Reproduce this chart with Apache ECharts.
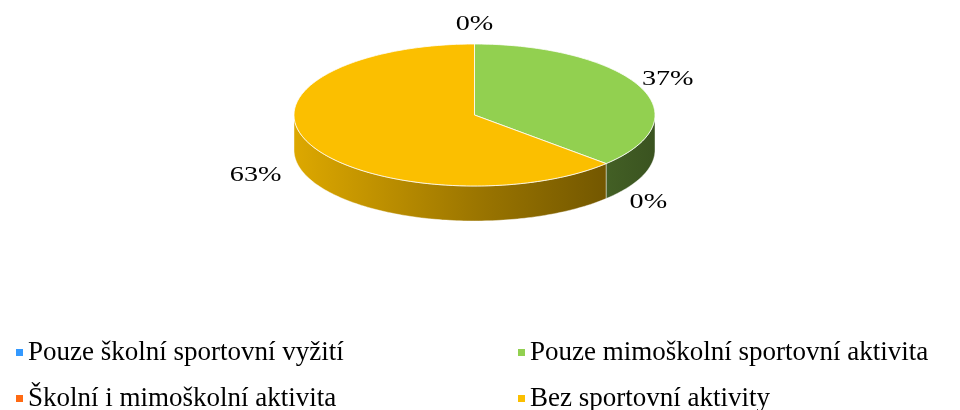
<!DOCTYPE html>
<html style="height: 100%">
   <head>
       <meta charset="utf-8">
       <script type="text/javascript" src="https://cdn.jsdelivr.net/npm/echarts@6/dist/echarts.min.js"></script>
   </head>
   <body style="height: 100%; margin: 0; background: #fff">
       <div id="container" style="width: 960px; height: 410px"></div>
       <script type="text/javascript">
var categories = ['Pouze školní sportovní vyžití', 'Pouze mimoškolní sportovní aktivita', 'Školní i mimoškolní aktivita', 'Bez sportovní aktivity'];
var values = [0, 37, 0, 63];
var colors = ['#3399FF', '#92D050', '#FF6A13', '#FBBF00'];

var dom = document.getElementById("container");
var myChart = echarts.init(dom);

// pie geometry (pixels)
var cx = 474.5, cy = 115, rx = 180.5, ry = 71, depth = 35;
var total = values.reduce(function (a, b) { return a + b; }, 0);

function pt(t, dy) {
    return [cx + rx * Math.sin(t), cy - ry * Math.cos(t) + (dy || 0)];
}
function arc(t0, t1, dy) {
    var pts = [], n = Math.max(2, Math.ceil((t1 - t0) / 0.02));
    for (var i = 0; i <= n; i++) pts.push(pt(t0 + (t1 - t0) * i / n, dy));
    return pts;
}
function shade(hex, f) {
    var r = parseInt(hex.substr(1, 2), 16), g = parseInt(hex.substr(3, 2), 16), b = parseInt(hex.substr(5, 2), 16);
    return 'rgb(' + Math.round(r * (1 - f)) + ',' + Math.round(g * (1 - f)) + ',' + Math.round(b * (1 - f)) + ')';
}

function renderItem(params, api) {
    var idx = params.dataIndex;
    var before = 0;
    for (var i = 0; i < idx; i++) before += values[i];
    var t0 = before / total * Math.PI * 2;
    var t1 = (before + api.value(0)) / total * Math.PI * 2;
    var color = colors[idx];
    var children = [];

    if (t1 > t0) {
        // side wall, front half only
        var a = Math.max(t0, Math.PI / 2), b = Math.min(t1, Math.PI * 1.5);
        if (b > a) {
            var top = arc(a, b, 0), bottom = arc(a, b, depth).reverse();
            children.push({
                type: 'polygon',
                z2: 1,
                shape: { points: top.concat(bottom) },
                style: {
                    fill: new echarts.graphic.LinearGradient(cx - rx, 0, cx + rx, 0, [
                        { offset: 0, color: shade(color, 0.12) },
                        { offset: 0.5, color: shade(color, 0.38) },
                        { offset: 1, color: shade(color, 0.6) }
                    ], true),
                    stroke: 'rgba(255,255,255,0.55)',
                    lineWidth: 0.8
                }
            });
        }
        children.push({
            type: 'polygon',
            z2: 5,
            shape: { points: [[cx, cy]].concat(arc(t0, t1, 0)) },
            style: { fill: color, stroke: 'rgba(255,255,255,0.8)', lineWidth: 1 }
        });
    }

    // percentage label
    var mid = (t0 + t1) / 2, s = Math.sin(mid), c = Math.cos(mid);
    var k = c >= 0 ? 30 : 58;
    children.push({
        type: 'text',
        z2: 10,
        x: cx + (rx + k) * s,
        y: cy - (ry + 20) * c + (c < 0 ? depth * 0.7 : 0),
        scaleX: 1.28,
        style: {
            text: Math.round(api.value(0) / total * 100) + '%',
            x: 0, y: 0,
            align: 'center',
            verticalAlign: 'middle',
            fill: '#000',
            font: '22px "Liberation Serif"'
        }
    });
    return { type: 'group', children: children };
}

// legend: two columns, one legend per entry
var legendPos = [[11, 334], [513, 334], [11, 380], [513, 380]];
var legends = categories.map(function (name, i) {
    return {
        data: [name],
        left: legendPos[i][0], top: legendPos[i][1],
        icon: 'rect', itemWidth: 7, itemHeight: 7,
        textStyle: { fontFamily: 'Liberation Serif', fontSize: 27, color: '#000' },
        selectedMode: false
    };
});

var option = {
    animation: false,
    legend: legends,
    series: [{
        // only feeds the legend
        type: 'pie',
        radius: [0, 0],
        silent: true,
        label: { show: false },
        data: categories.map(function (name, i) {
            return { name: name, value: values[i], itemStyle: { color: colors[i] } };
        })
    }, {
        type: 'custom',
        name: 'pie3d',
        coordinateSystem: 'none',
        silent: true,
        renderItem: renderItem,
        data: values.map(function (v) { return [v]; })
    }]
};
myChart.setOption(option);
       </script>
   </body>
</html>
